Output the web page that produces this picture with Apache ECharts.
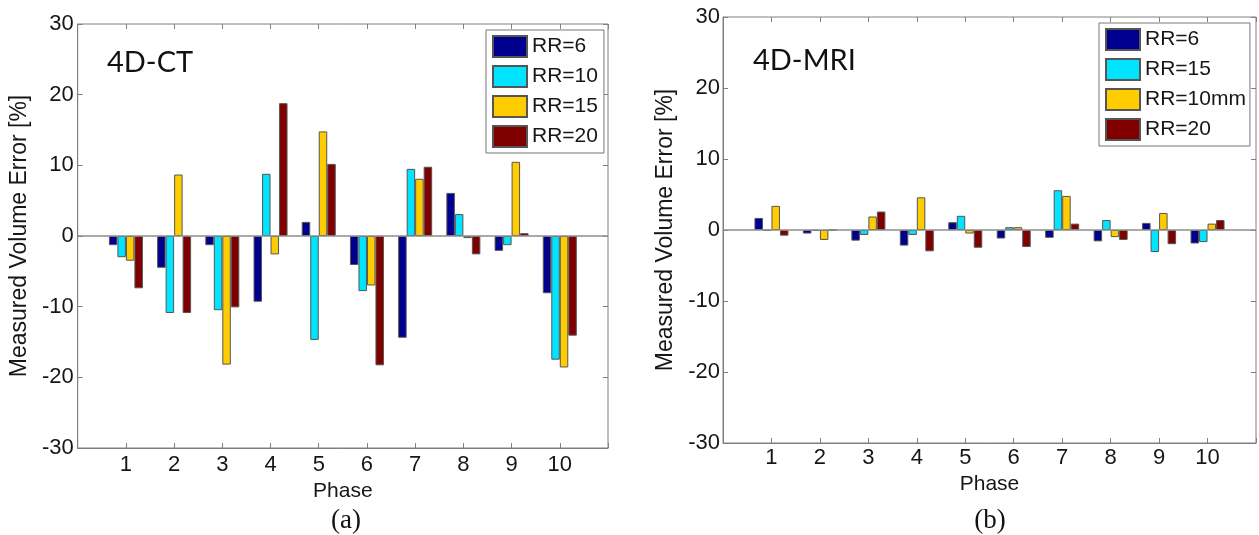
<!DOCTYPE html>
<html>
<head>
<meta charset="utf-8">
<script src="https://cdn.jsdelivr.net/npm/echarts@6/dist/echarts.min.js"></script>
<style>
  html, body { margin: 0; padding: 0; background: #fff; }
  #wrap { position: relative; width: 1259px; height: 535px; }
  #ct { position: absolute; left: 0; top: 0; width: 640px; height: 535px; }
  #mri { position: absolute; left: 640px; top: 0; width: 619px; height: 535px; }
</style>
</head>
<body>
<div id="wrap"><div id="ct"></div><div id="mri"></div></div>
<script>
const phases = [1, 2, 3, 4, 5, 6, 7, 8, 9, 10]
const yTicks = [-30, -20, -10, 0, 10, 20, 30]

// 4D-CT panel (a)
const ctNames = ['RR=6', 'RR=10', 'RR=15', 'RR=20']
const ctRR6 = [-1.3, -4.5, -1.3, -9.3, 2.0, -4.1, -14.4, 6.1, -2.1, -8.1]
const ctRR10 = [-3.0, -10.9, -10.5, 8.8, -14.7, -7.8, 9.5, 3.1, -1.3, -17.5]
const ctRR15 = [-3.5, 8.7, -18.2, -2.6, 14.8, -7.0, 8.1, -0.3, 10.5, -18.6]
const ctRR20 = [-7.4, -10.9, -10.1, 18.8, 10.2, -18.3, 9.8, -2.6, 0.4, -14.1]

// 4D-MRI panel (b)
const mriNames = ['RR=6', 'RR=15', 'RR=10mm', 'RR=20']
const mriRR6 = [1.7, -0.5, -1.5, -2.2, 1.1, -1.2, -1.1, -1.6, 1.0, -1.9]
const mriRR15 = [-0.1, -0.1, -0.7, -0.7, 2.0, 0.4, 5.6, 1.4, -3.1, -1.7]
const mriRR10 = [3.4, -1.4, 1.9, 4.6, -0.5, 0.4, 4.8, -1.0, 2.4, 0.9]
const mriRR20 = [-0.8, 0, 2.6, -3.0, -2.5, -2.4, 0.9, -1.4, -2.0, 1.4]

const colors = ['#00008f', '#00e4ff', '#ffcc00', '#800000']
const font = 'Arial, "Liberation Sans", sans-serif'
const axisGrey = '#808080'
const ink = '#161616'

const makeOption = p => {
  const tick = { show: true, inside: true, length: 5, lineStyle: { color: axisGrey } }
  const tickOnly = {
    axisLabel: { show: false },
    axisLine: { show: false, onZero: false },
    axisTick: tick,
    splitLine: { show: false }
  }
  const series = p.values.map((vals, i) => ({
    name: p.names[i],
    type: 'bar',
    barWidth: 8.5,
    barGap: '0%',
    data: vals.map((v, k) => [phases[k], v]),
    itemStyle: { color: colors[i], borderColor: '#555', borderWidth: 1 },
    markLine: i === 0 ? {
      silent: true,
      symbol: 'none',
      label: { show: false },
      lineStyle: { color: '#8c8c8c', width: 1.5, type: 'solid' },
      data: [{ yAxis: 0 }]
    } : undefined
  }))
  return {
    animation: false,
    backgroundColor: '#fff',
    textStyle: { fontFamily: font, color: ink },
    grid: {
      left: p.grid[0], top: p.grid[1], width: p.grid[2], height: p.grid[3],
      show: true, borderColor: axisGrey, borderWidth: 1
    },
    legend: {
      orient: 'vertical',
      left: p.legend[0], top: p.legend[1],
      data: p.names,
      icon: 'rect',
      itemWidth: 34, itemHeight: 21, itemGap: 7,
      padding: [5, p.legendPadRight, 5, 6],
      backgroundColor: '#fff',
      borderColor: '#777', borderWidth: 1, borderRadius: 0,
      textStyle: { fontSize: 21, fontFamily: font, color: ink },
      selectedMode: false
    },
    xAxis: [{
      type: 'value', min: 0, max: 11, interval: 1,
      name: 'Phase', nameLocation: 'middle', nameGap: p.xNameGap,
      nameTextStyle: { fontSize: 21, color: ink },
      axisLine: { show: true, onZero: false, lineStyle: { color: axisGrey } },
      axisTick: tick,
      axisLabel: {
        fontSize: 22, color: ink, margin: p.xLabelMargin,
        formatter: v => (phases.includes(v) ? String(v) : '')
      },
      splitLine: { show: false }
    }, Object.assign({ type: 'value', min: 0, max: 11, interval: 1, position: 'top' }, tickOnly)],
    yAxis: [{
      type: 'value', min: yTicks[0], max: yTicks[yTicks.length - 1], interval: 10,
      name: 'Measured Volume Error [%]', nameLocation: 'middle', nameGap: p.yNameGap,
      nameTextStyle: { fontSize: 23, color: ink },
      axisLine: { show: true, onZero: false, lineStyle: { color: axisGrey } },
      axisTick: tick,
      axisLabel: { fontSize: 22, color: ink, margin: p.yLabelMargin },
      splitLine: { show: false }
    }, Object.assign({ type: 'value', min: -30, max: 30, interval: 10, position: 'right' }, tickOnly)],
    graphic: [{
      type: 'text', left: p.tag[0], top: p.tag[1], silent: true,
      style: { text: p.tag[2], fontSize: 29, fontFamily: 'Lato, "Open Sans", sans-serif', fill: '#111' }
    }, {
      type: 'text', silent: true,
      style: {
        x: p.caption[0], y: p.caption[1], text: p.caption[2],
        textAlign: 'center', textVerticalAlign: 'middle',
        fontSize: 27, fontFamily: '"Liberation Serif", "Times New Roman", serif', fill: '#111'
      }
    }],
    series
  }
}

const ctChart = echarts.init(document.getElementById('ct'))
ctChart.setOption(makeOption({
  names: ctNames,
  values: [ctRR6, ctRR10, ctRR15, ctRR20],
  grid: [74, 24, 534, 424],
  legend: [486, 30],
  legendPadRight: 6,
  xNameGap: 27,
  xLabelMargin: 6,
  yLabelMargin: 4,
  yNameGap: 33,
  tag: [107, 48, '4D-CT'],
  caption: [346, 521, '(a)']
}))

const mriChart = echarts.init(document.getElementById('mri'))
mriChart.setOption(makeOption({
  names: mriNames,
  values: [mriRR6, mriRR15, mriRR10, mriRR20],
  grid: [83, 17, 535, 426],
  legend: [459, 23],
  legendPadRight: 4,
  xNameGap: 27,
  xLabelMargin: 4,
  yLabelMargin: 3,
  yNameGap: 32,
  tag: [113, 46, '4D-MRI'],
  caption: [350, 521, '(b)']
}))
</script>
</body>
</html>
